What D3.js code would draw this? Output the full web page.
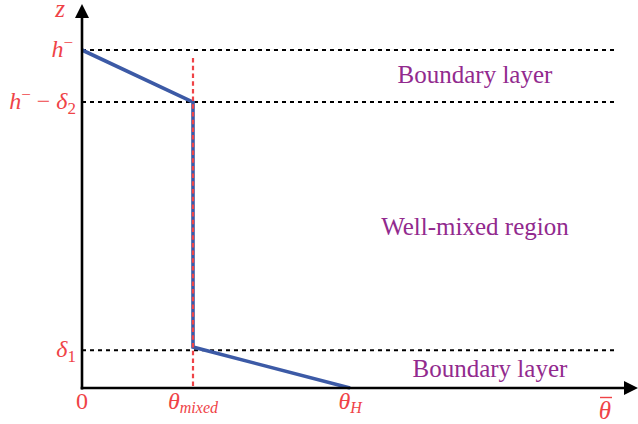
<!DOCTYPE html>
<html>
<head>
<meta charset="utf-8">
<script src="https://cdn.jsdelivr.net/npm/d3@7"></script>
<style>
  html, body { margin: 0; padding: 0; background: #fff; }
  svg { display: block; }
</style>
</head>
<body>
<svg id="chart" width="638" height="424"></svg>
<script>
// Potential temperature profile (arbitrary units): theta vs height z
const profileTheta = [0, 0.2, 0.2, 0.483];
const profileZ     = [1, 0.846, 0.121, 0];

// Reference heights drawn as dashed lines
const levelNames  = ["h", "hd2", "d1"];
const levelValues = [1, 0.846, 0.112];

// Reference theta values marked on the horizontal axis
const thetaNames  = ["zero", "mixed", "H"];
const thetaValues = [0, 0.2, 0.483];

// Region annotations
const regionNames   = ["Boundary layer", "Well-mixed region", "Boundary layer"];
const regionZ       = [0.926, 0.476, 0.056];
const regionTheta   = [0.708, 0.708, 0.735];

const red = "#ef4347", blue = "#3c5aa6", purple = "#922a8e";
const SERIF = '"Liberation Serif"';

const svg = d3.select("#chart");
const x = d3.scaleLinear().domain([0, 1]).range([82, 637]);
const y = d3.scaleLinear().domain([0, 1]).range([388, 50]);

// Dashed reference levels
svg.append("g").selectAll("line")
  .data(levelValues).join("line")
  .attr("x1", x(0)).attr("x2", x(0.96))
  .attr("y1", d => y(d)).attr("y2", d => y(d))
  .attr("stroke", "#000").attr("stroke-width", 2)
  .attr("stroke-dasharray", "4,4");

// Profile
const pts = profileTheta.map((t, i) => [t, profileZ[i]]);
svg.append("path")
  .attr("d", d3.line().x(d => x(d[0])).y(d => y(d[1]))(pts))
  .attr("fill", "none").attr("stroke", blue).attr("stroke-width", 3.6)
  .attr("stroke-linejoin", "miter");

// Dotted line at theta_mixed, over the profile
svg.append("line")
  .attr("x1", x(thetaValues[1])).attr("x2", x(thetaValues[1]))
  .attr("y1", y(0.976)).attr("y2", y(0))
  .attr("stroke", red).attr("stroke-width", 2.2)
  .attr("stroke-dasharray", "4.5,3.2");

// Axes with arrow heads
const axis = svg.append("g");
axis.append("line").attr("x1", x(0)).attr("x2", x(0))
  .attr("y1", y(0) + 1.5).attr("y2", 16).attr("stroke", "#000").attr("stroke-width", 2.6);
axis.append("line").attr("x1", x(0) - 1.3).attr("x2", 626)
  .attr("y1", y(0)).attr("y2", y(0)).attr("stroke", "#000").attr("stroke-width", 2.6);
axis.append("path").attr("d", `M${x(0)},4 L${x(0) + 7},18 L${x(0) - 7},18 Z`).attr("fill", "#000");
axis.append("path").attr("d", `M638,${y(0)} L624,${y(0) - 7} L624,${y(0) + 7} Z`).attr("fill", "#000");

// Axis titles
svg.append("text").attr("x", 60).attr("y", 17).attr("text-anchor", "middle")
  .style("font-family", SERIF).style("font-size", "25px").style("font-style", "italic")
  .attr("fill", red).text("z");
svg.append("text").attr("x", 605).attr("y", 419).attr("text-anchor", "middle")
  .style("font-family", SERIF).style("font-size", "25px").style("font-style", "italic")
  .attr("fill", red).text("θ");
svg.append("line").attr("x1", 600).attr("x2", 612).attr("y1", 397.5).attr("y2", 397.5)
  .attr("stroke", red).attr("stroke-width", 1.4);

// Level labels on the z axis
function zLabel(i) {
  const t = svg.append("text").attr("x", 76).attr("y", y(levelValues[i]) + 7)
    .attr("text-anchor", "end").attr("fill", red)
    .style("font-family", SERIF).style("font-size", "24px");
  const sup = s => t.append("tspan").attr("dy", -9).style("font-size", "17px").text(s);
  const sub = s => t.append("tspan").attr("dy", 5).style("font-size", "17px").text(s);
  const it = s => t.append("tspan").style("font-style", "italic").text(s);
  const name = levelNames[i];
  if (name === "h") {
    t.attr("x", 73);
    it("h"); sup("−");
  } else if (name === "hd2") {
    it("h"); sup("−");
    t.append("tspan").attr("dy", 9).text(" − ");
    it("δ"); sub("2");
  } else {
    it("δ"); sub("1");
  }
}
levelValues.forEach((_, i) => zLabel(i));

// Theta labels on the horizontal axis
thetaNames.forEach((name, i) => {
  const t = svg.append("text").attr("x", x(thetaValues[i])).attr("y", 409)
    .attr("text-anchor", "middle").attr("fill", red)
    .style("font-family", SERIF).style("font-size", "24px");
  if (name === "zero") {
    t.text("0");
  } else {
    t.append("tspan").style("font-style", "italic").text("θ");
    t.append("tspan").attr("dy", 4).style("font-size", "16px").style("font-style", "italic")
      .text(name === "mixed" ? "mixed" : "H");
  }
});

// Region annotations
svg.append("g").selectAll("text")
  .data(regionNames).join("text")
  .attr("x", (d, i) => x(regionTheta[i]))
  .attr("y", (d, i) => y(regionZ[i]) + 8)
  .attr("text-anchor", "middle")
  .style("font-family", SERIF).style("font-size", "25px")
  .attr("fill", purple)
  .text(d => d);
</script>
</body>
</html>
